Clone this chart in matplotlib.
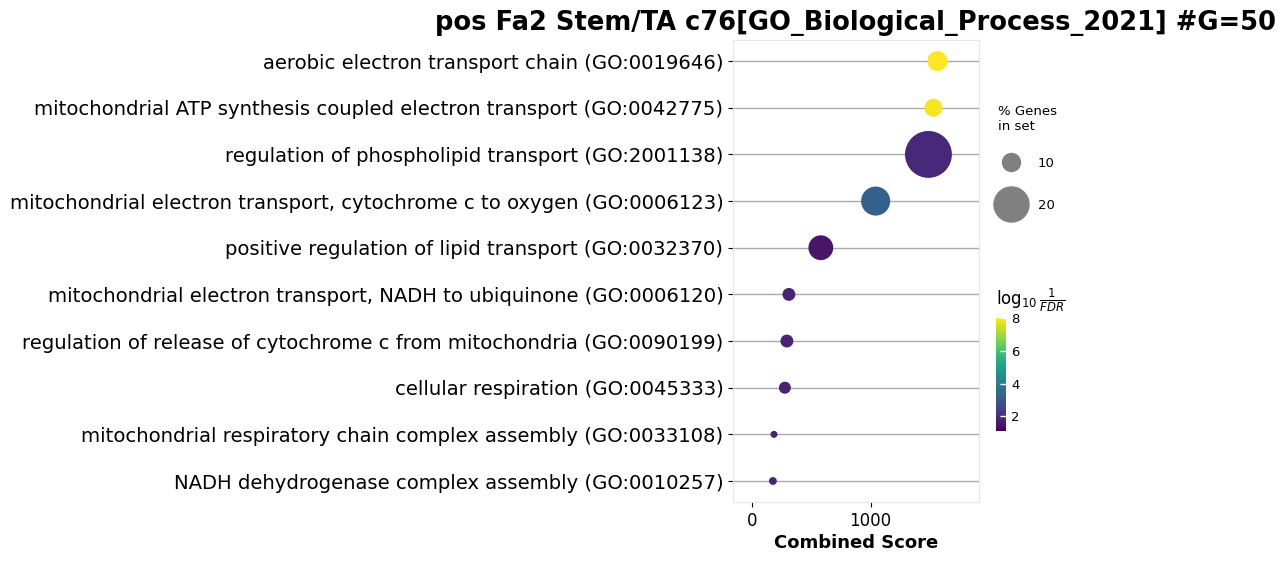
import numpy as np
import matplotlib.pyplot as plt
from matplotlib.lines import Line2D

# data
terms = [
    "aerobic electron transport chain (GO:0019646)",
    "mitochondrial ATP synthesis coupled electron transport (GO:0042775)",
    "regulation of phospholipid transport (GO:2001138)",
    "mitochondrial electron transport, cytochrome c to oxygen (GO:0006123)",
    "positive regulation of lipid transport (GO:0032370)",
    "mitochondrial electron transport, NADH to ubiquinone (GO:0006120)",
    "regulation of release of cytochrome c from mitochondria (GO:0090199)",
    "cellular respiration (GO:0045333)",
    "mitochondrial respiratory chain complex assembly (GO:0033108)",
    "NADH dehydrogenase complex assembly (GO:0010257)",
]
combined_score = [1563, 1529, 1487, 1042, 580, 311, 294, 277, 185, 176]
pct_genes = [11.2, 10.0, 27.0, 16.5, 14.0, 7.0, 7.0, 6.5, 3.5, 4.0]
log_fdr = [8.0, 7.9, 1.9, 3.2, 1.5, 1.8, 1.8, 1.8, 1.7, 1.7]
legend_pcts = [10, 20]

title = "pos Fa2 Stem/TA c76[GO_Biological_Process_2021] #G=50"


def pct_to_size(p):
    # diameter in pixels grows with % genes, converted to points^2
    d = 18 + (np.asarray(p) - 10) * 1.7
    return (d * 0.72) ** 2


plt.rcParams['font.family'] = ['DejaVu Sans']

fig = plt.figure(figsize=(12.86, 5.65), dpi=100)
ax = fig.add_axes([0.570, 0.1115, 0.191, 0.8175])

y = np.arange(len(terms))
ax.hlines(y, -160, 1910, color='#aaaaaa', lw=1, zorder=1)
sc = ax.scatter(combined_score, y, s=pct_to_size(pct_genes), c=log_fdr,
                cmap='viridis', vmin=1.1, vmax=8.0, edgecolors='none', zorder=2)

ax.set_xlim(-160, 1910)
ax.set_ylim(len(terms) - 0.55, -0.45)
ax.set_yticks(y)
ax.set_yticklabels(terms, fontsize=14.1)
ax.set_xticks([0, 1000])
ax.tick_params(axis='x', labelsize=12)
ax.set_xlabel("Combined Score", fontsize=13, fontweight='bold', labelpad=3)
for s in ax.spines.values():
    s.set_color('#e6e6e6')
ax.set_title(title, fontsize=18.5, fontweight='bold', pad=7)

# size legend
handles = [Line2D([], [], ls='', marker='o', color='#808080',
                  markersize=np.sqrt(pct_to_size(p))) for p in legend_pcts]
leg = fig.legend(handles, [str(p) for p in legend_pcts], title="% Genes\nin set",
                 loc='upper left', bbox_to_anchor=(0.774, 0.818), frameon=False,
                 fontsize=9.5, title_fontsize=9.5, labelspacing=2.2, handletextpad=1.0,
                 borderpad=0.2, borderaxespad=0)
leg._legend_box.align = 'left'
leg._legend_box.sep = 17

# colorbar
cax = fig.add_axes([0.7745, 0.237, 0.0078, 0.2])
cb = fig.colorbar(sc, cax=cax, ticks=[2, 4, 6, 8])
cb.outline.set_visible(False)
cb.ax.tick_params(labelsize=9.5, color='white', direction='in', length=4, width=1)
cax.set_title(r"$\log_{10}\frac{1}{FDR}$", fontsize=12, loc='left', pad=9)

fig.savefig("out.png", dpi=100)
